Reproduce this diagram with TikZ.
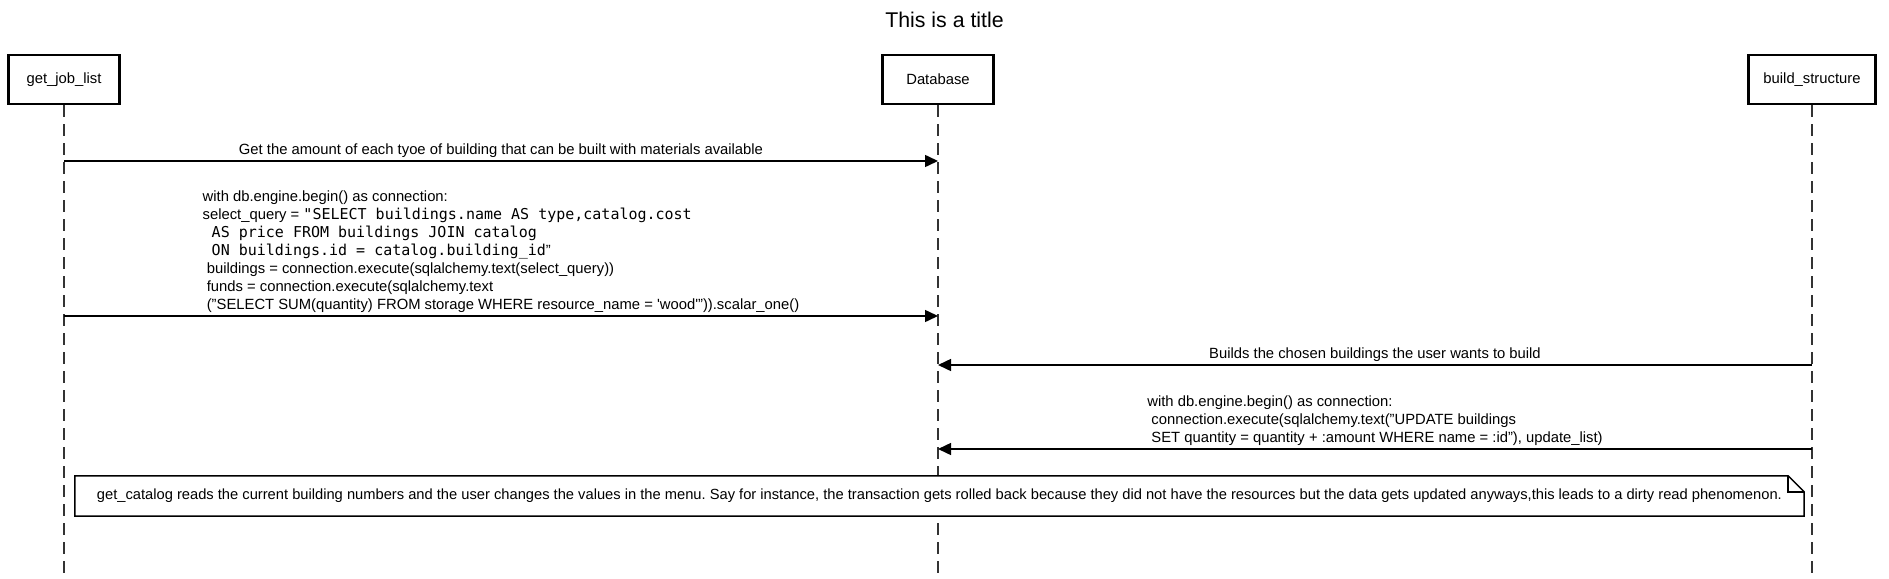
\documentclass[tikz,border=0pt]{standalone}
\usepackage{fontspec}
\setmainfont{Liberation Sans}
\setmonofont{DejaVu Sans Mono}
\usetikzlibrary{arrows.meta,positioning,calc}
\newcommand{\lsp}{\hspace*{\fontdimen2\font}}
\frenchspacing
\tikzset{
    actor/.style={
        rectangle,
        draw=black,
        line width=2.6pt,
        fill=white,
        minimum width=111pt,
        minimum height=49pt,
        inner xsep=15pt,
        font=\fontsize{14.8}{18}\selectfont,
    },
    lifeline/.style={
        draw=black!80,
        line width=1.4pt,
        dash pattern=on 12pt off 7pt,
    },
    msg/.style={
        draw,
        -{Triangle[length=13pt,width=12pt]},
        line width=1.5pt,
    },
    msglabel/.style={
        anchor=south,
        align=left,
        inner xsep=0pt,
        inner ysep=3pt,
        font=\fontsize{14.8}{18}\selectfont,
    },
    note/.style={
        fill=white,
        minimum width=1729pt,
        minimum height=40pt,
        font=\fontsize{14.7}{18}\selectfont,
    },
    notebox/.style={
        draw=black,
        line width=1.5pt,
    },
    node distance=874pt,
}

\begin{document}
\begin{tikzpicture}[x=1pt,y=-1pt]
    \useasboundingbox (0,0) rectangle (1889,578);
    \node [font=\fontsize{21.3}{25}\selectfont] (title) at (944.5,20) {This is a title};
    \node [actor] (gjl) at (64,79.5) {get\_job\_list};
    \node [actor,right of=gjl] (db) {Database};
    \node [actor,right of=db] (bs) {build\_structure};
    \coordinate (gjl-end) at (gjl |- 0,578);
    \coordinate (db-end) at (db |- 0,578);
    \coordinate (bs-end) at (bs |- 0,578);
    \draw [lifeline] (gjl) -- (gjl-end);
    \draw [lifeline] (db) -- (db-end);
    \draw [lifeline] (bs) -- (bs-end);
    \coordinate (gjl-1) at (gjl |- 0,161);
    \coordinate (db-1) at (db |- 0,161);
    \coordinate (gjl-2) at (gjl |- 0,316);
    \coordinate (db-2) at (db |- 0,316);
    \coordinate (bs-3) at (bs |- 0,365);
    \coordinate (db-3) at (db |- 0,365);
    \coordinate (bs-4) at (bs |- 0,449);
    \coordinate (db-4) at (db |- 0,449);
    \draw [msg] (gjl-1) -- node [msglabel] {Get the amount of each tyoe of building that can be built with materials available} (db-1);
    \draw [msg] (gjl-2) -- node [msglabel] {with db.engine.begin() as connection:\\
        select\_query = {\ttfamily\fontsize{15}{18}\selectfont "SELECT buildings.name AS type,catalog.cost}\\
        {\ttfamily\fontsize{15}{18}\selectfont\lsp AS price FROM buildings JOIN catalog}\\
        {\ttfamily\fontsize{15}{18}\selectfont\lsp ON buildings.id = catalog.building\_id}"\\
        \lsp buildings = connection.execute(sqlalchemy.text(select\_query))\\
        \lsp funds = connection.execute(sqlalchemy.text\\
        \lsp ("SELECT SUM(quantity) FROM storage WHERE resource\_name = \textquotesingle wood\textquotesingle")).scalar\_one()} (db-2);
    \draw [msg] (bs-3) -- node [msglabel] {Builds the chosen buildings the user wants to build} (db-3);
    \draw [msg] (bs-4) -- node [msglabel] {with db.engine.begin() as connection:\\
        \lsp connection.execute(sqlalchemy.text("UPDATE buildings\\
        \lsp SET quantity = quantity + :amount WHERE name = :id"), update\_list)} (db-4);
    \node [note] (dirty) at (939.5,496) {get\_catalog reads the current building numbers and the user changes the values in the menu. Say for instance, the transaction gets rolled back because they did not have the resources but the data gets updated anyways,this leads to a dirty read phenomenon.};
    \draw [notebox] (dirty.north west) -- ([xshift=-16pt]dirty.north east) -- ([yshift=-16pt]dirty.north east) -- (dirty.south east) -- (dirty.south west) -- cycle;
    \draw [notebox] ([xshift=-16pt]dirty.north east) |- ([yshift=-16pt]dirty.north east);
\end{tikzpicture}
\end{document}
